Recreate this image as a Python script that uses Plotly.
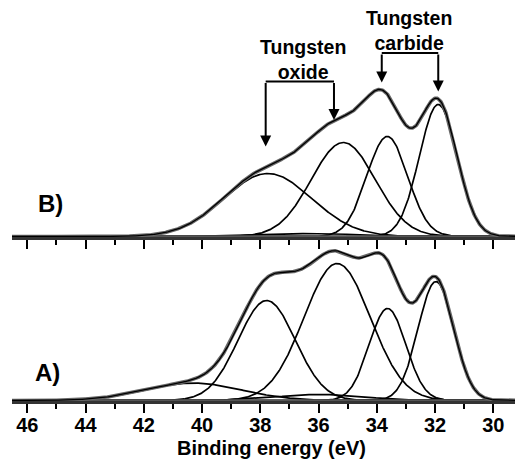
import numpy as np
import plotly.graph_objects as go

# W 4f spectra: fitted Gaussian components (centre in eV, height in a.u., sigma in eV)
b_centers = [37.74, 35.15, 33.64, 31.89, 36.30]
b_heights = [63.0, 94.0, 100.0, 132.0, 3.0]
b_sigmas = [1.50, 1.10, 0.70, 0.65, 1.60]

a_centers = [40.30, 37.78, 35.36, 33.63, 31.97, 35.95]
a_heights = [17.4, 100.0, 137.0, 92.0, 119.0, 6.0]
a_sigmas = [1.65, 0.98, 1.14, 0.63, 0.61, 1.50]

x_ticks = [46, 44, 42, 40, 38, 36, 34, 32, 30]

# bracket markers: (left eV, right eV, bar height, left tip, right tip)
oxide_bracket = [37.815, 35.47, 155.0, 90.0, 116.5]
carbide_bracket = [33.83, 31.89, 183.5, 154.0, 145.0]

FONT = "Liberation Sans"
energy = np.linspace(29.0, 47.0, 900)


def gauss(c, h, s):
    return h * np.exp(-((energy - c) ** 2) / (2 * s * s))


fig = go.Figure()


def add_panel(centers, heights, sigmas, xa, ya):
    comps = [gauss(c, h, s) for c, h, s in zip(centers, heights, sigmas)]
    total = np.sum(comps, axis=0)
    for comp in comps:
        fig.add_trace(go.Scatter(x=energy, y=comp, mode="lines", xaxis=xa, yaxis=ya,
                                 line=dict(color="black", width=1.7), showlegend=False))
    fig.add_trace(go.Scatter(x=energy, y=np.zeros_like(energy), mode="lines", xaxis=xa, yaxis=ya,
                             line=dict(color="#555", width=2.5), showlegend=False))
    fig.add_trace(go.Scatter(x=energy, y=total, mode="lines", xaxis=xa, yaxis=ya,
                             line=dict(color="#666", width=3.5), showlegend=False))
    fig.add_trace(go.Scatter(x=energy, y=total, mode="lines", xaxis=xa, yaxis=ya,
                             line=dict(color="black", width=1.3), showlegend=False))


add_panel(a_centers, a_heights, a_sigmas, "x", "y")
add_panel(b_centers, b_heights, b_sigmas, "x2", "y2")

x_range = [46.525, 29.255]
axis_common = dict(range=x_range, showgrid=False, zeroline=False, showline=True,
                   linecolor="#333", linewidth=2.5, ticks="outside", ticklen=9,
                   tickwidth=2, tickcolor="black", tickvals=x_ticks,
                   minor=dict(ticks="outside", ticklen=5, tickwidth=2, tickcolor="black", dtick=1))

fig.update_layout(
    width=515, height=464,
    margin=dict(l=12, r=0, t=0, b=63),
    paper_bgcolor="white", plot_bgcolor="white",
    xaxis=dict(**axis_common, anchor="y", ticktext=["<b>%d</b>" % v for v in x_ticks],
               ticklabelstandoff=-5,
               tickfont=dict(family=FONT, size=20, color="black")),
    xaxis2=dict(**axis_common, anchor="y2", matches="x", showticklabels=False),
    yaxis=dict(domain=[0, 0.40], range=[-0.5, 159.9], visible=False),
    yaxis2=dict(domain=[0.409, 1], range=[-0.5, 236.5], visible=False),
)

bold = dict(family=FONT, size=19.5, color="black")


def bracket(vals):
    xl, xr, yb, tl, tr = vals
    fig.add_shape(type="line", xref="x2", yref="y2", x0=xl, x1=xr, y0=yb, y1=yb,
                  line=dict(color="black", width=2))
    for xv, tip in ((xl, tl), (xr, tr)):
        fig.add_annotation(x=xv, y=tip, ax=xv, ay=yb, xref="x2", yref="y2",
                           axref="x2", ayref="y2", text="", showarrow=True,
                           arrowhead=2, arrowsize=1.1, arrowwidth=2, arrowcolor="black")


bracket(oxide_bracket)
bracket(carbide_bracket)

fig.add_annotation(x=36.53, y=177.5, xref="x2", yref="y2", text="<b>Tungsten<br>oxide</b>",
                   showarrow=False, font=bold, xanchor="center")
fig.add_annotation(x=32.9, y=206.5, xref="x2", yref="y2", text="<b>Tungsten<br>carbide</b>",
                   showarrow=False, font=bold, xanchor="center")

label_font = dict(family=FONT, size=24, color="black")
fig.add_annotation(x=(50 - 12) / 503, y=(401 - 203) / 401, xref="paper", yref="paper",
                   text="<b>B)</b>", showarrow=False, font=label_font,
                   xanchor="center", yanchor="middle")
fig.add_annotation(x=(47.5 - 12) / 503, y=(401 - 372) / 401, xref="paper", yref="paper",
                   text="<b>A)</b>", showarrow=False, font=label_font,
                   xanchor="center", yanchor="middle")

fig.add_annotation(x=(271.5 - 12) / 503, y=-(448 - 401) / 401, xref="paper", yref="paper",
                   text="<b>Binding energy (eV)</b>", showarrow=False,
                   xanchor="center", yanchor="middle",
                   font=dict(family=FONT, size=20, color="black"))

fig.write_html("out.html")
